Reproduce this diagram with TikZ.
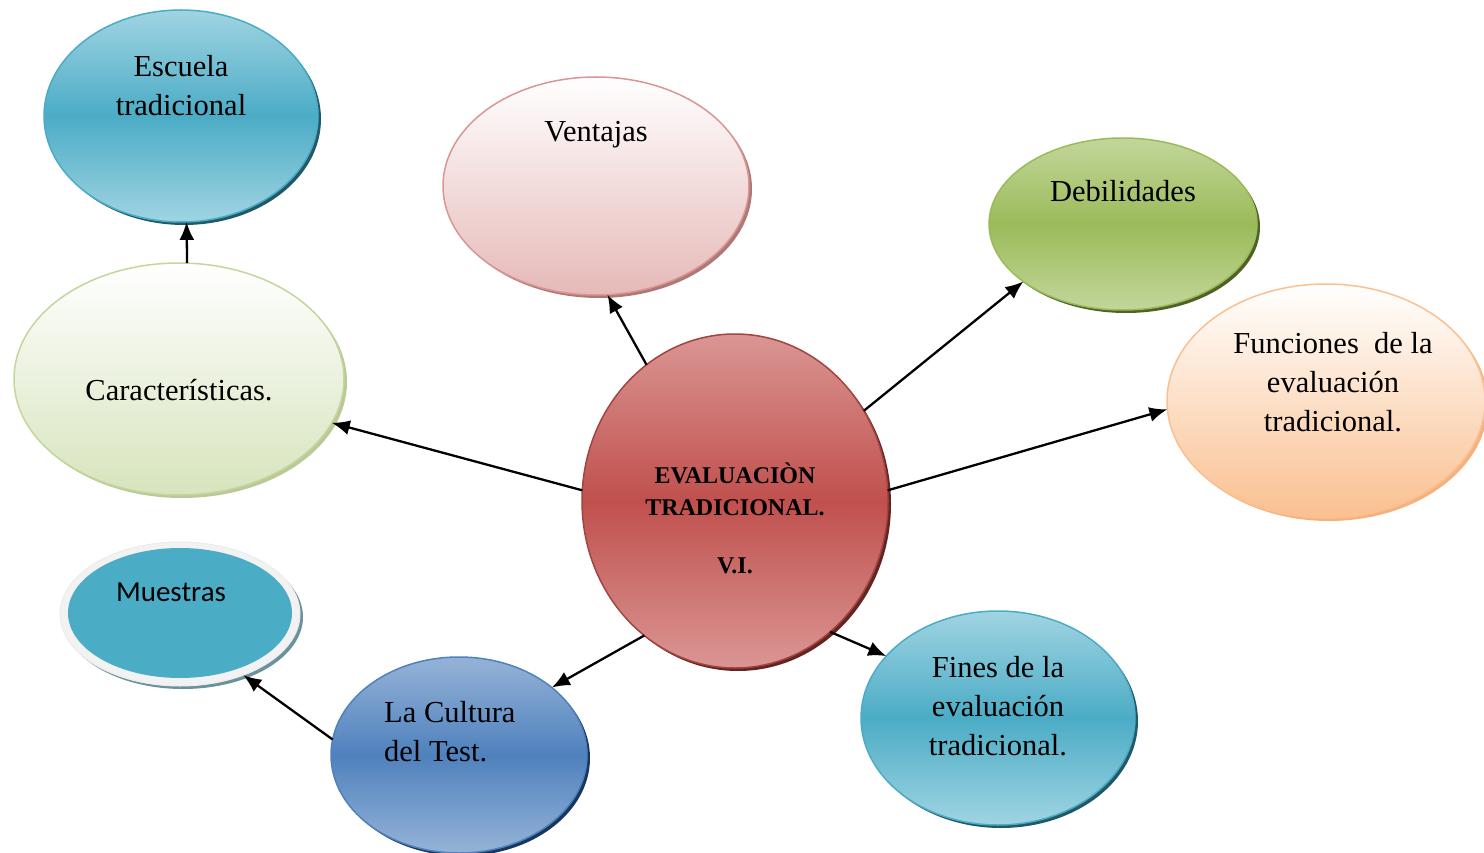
\documentclass[tikz,border=0pt]{standalone}
\usepackage{fontspec}
\setmainfont{Liberation Serif}
\newfontfamily\carl{Carlito}
\usetikzlibrary{shapes.geometric,arrows.meta}
\definecolor{tealM}{HTML}{4BACC6}
\definecolor{tealL}{HTML}{A0D4E2}
\definecolor{tealD}{HTML}{31859C}
\definecolor{tealS}{HTML}{215968}
\definecolor{pinkB}{HTML}{E6B9B8}
\definecolor{pinkD}{HTML}{D99694}
\definecolor{grnM}{HTML}{9BBB59}
\definecolor{grnL}{HTML}{C3D69B}
\definecolor{grnS}{HTML}{4F6228}
\definecolor{peach}{HTML}{FAC090}
\definecolor{peachD}{HTML}{F5B27F}
\definecolor{lgrn}{HTML}{D7E4BD}
\definecolor{redM}{HTML}{C0504D}
\definecolor{redL}{HTML}{DA9694}
\definecolor{redS}{HTML}{632523}
\definecolor{bluM}{HTML}{4F81BD}
\definecolor{bluL}{HTML}{95B3D7}
\definecolor{bluS}{HTML}{17375E}
\begin{document}
\begin{tikzpicture}[x=1pt,y=-1pt,
  oval/.style={ellipse,inner sep=0pt,outer sep=0pt,line width=1.5pt},
  shad/.style={preaction={fill=#1,transform canvas={xshift=3pt,yshift=-3pt}}},
  lbl/.style={inner sep=0pt,align=center,font=\fontsize{30.5}{39}\selectfont},
  conn/.style={line width=2.3pt,-{Latex[length=18pt,width=15pt]}}]
\useasboundingbox (0,0) rectangle (1484,853);
% ellipses
\node[oval,minimum width=274pt,minimum height=212pt,draw=tealM,shad=tealS,
  top color=tealL,bottom color=tealL,middle color=tealM] (E) at (181,116) {};
\node[oval,minimum width=306pt,minimum height=218pt,draw=pinkD,shad=pinkD!80!black,
  top color=white,bottom color=pinkB] (V) at (596,186) {};
\node[oval,minimum width=268pt,minimum height=172pt,draw=grnM,shad=grnS,
  top color=grnL,bottom color=grnL,middle color=grnM] (D) at (1123,224) {};
\node[oval,minimum width=318pt,minimum height=234pt,draw=peach,shad=peachD,
  top color=white,bottom color=peach] (F) at (1326,401) {};
\node[oval,minimum width=330pt,minimum height=232pt,draw=grnL,shad=grnL!85!gray,
  top color=white,bottom color=lgrn] (K) at (179,379) {};
\node[oval,minimum width=306pt,minimum height=334pt,draw=redM!85!black,shad=redS,
  top color=redL,bottom color=redL,middle color=redM] (C) at (735,501) {};
\node[oval,minimum width=240pt,minimum height=144pt,draw=gray!15,line width=1pt,
  fill=gray!10,shad=gray!60!tealM] (M) at (180,614) {};
\node[ellipse,inner sep=0pt,minimum width=224pt,minimum height=130pt,fill=tealM] (Mi) at (180,613) {};
\node[oval,minimum width=256pt,minimum height=196pt,draw=bluM,shad=bluS,
  top color=bluL,bottom color=bluL,middle color=bluM] (L) at (459,755) {};
\node[oval,minimum width=274pt,minimum height=214pt,draw=tealM,shad=tealS,
  top color=tealL,bottom color=tealL,middle color=tealM] (N) at (998,718) {};
% labels
\node[lbl] (tE) at (181,86) {Escuela\\tradicional};
\node[lbl] (tV) at (596,135) {Ventajas};
\node[lbl] (tD) at (1123,191) {Debilidades};
\node[lbl] (tF) at (1333,382) {Funciones~ de la\\evaluación\\tradicional.};
\node[lbl] (tK) at (179,390) {Características.};
\node[inner sep=0pt,align=center,font=\fontsize{24}{32}\selectfont\bfseries] (tC) at (735,518)
  {EVALUACIÒN\\TRADICIONAL.\\[26pt]V.I.};
\node[inner sep=0pt,font=\fontsize{29}{34}\selectfont\carl] (tM) at (171,592) {Muestras};
\node[lbl,align=left,anchor=west] (tL) at (384,732) {La Cultura\\del Test.};
\node[lbl] (tN) at (998,706) {Fines de la\\evaluación\\tradicional.};
% connectors
\draw[conn] (K.86) -- (E.273);
\draw[conn] (C.123) -- (V.276);
\draw[conn] (C.35.6) -- (D.210);
\draw[conn] (C.4) -- (F.183.6);
\draw[conn] (C.176.3) -- (K.344.7);
\draw[conn] (C.236.3) -- (L.36.3);
\draw[conn] (C.306) -- (N.151.6);
\draw[conn] (L.173.2) -- (M.316.2);
\end{tikzpicture}
\end{document}
